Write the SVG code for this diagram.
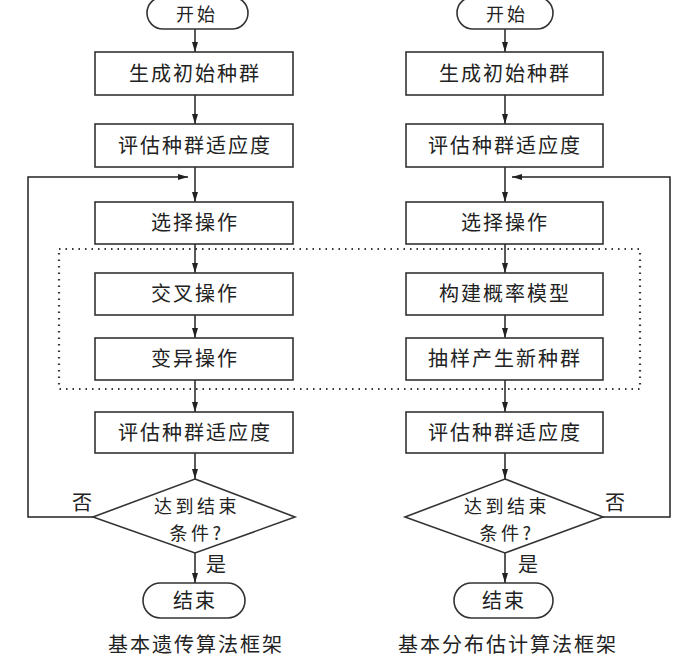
<svg xmlns="http://www.w3.org/2000/svg" width="681" height="660" viewBox="0 0 681 660">
<defs>
<marker id="ah" viewBox="0 0 10 6" refX="10" refY="3" markerWidth="10" markerHeight="6" markerUnits="userSpaceOnUse" orient="auto">
<path d="M0,0 L10,3 L0,6 z" fill="#222"/>
</marker>
<style>
.n{fill:#fff;stroke:#333;stroke-width:1.6}
.t{font-family:"Noto Sans CJK SC","Noto Sans",sans-serif;font-size:20px;fill:#222;text-anchor:middle;letter-spacing:2px}
.s{font-size:18px;letter-spacing:3px}
.d{font-size:18px;letter-spacing:3.5px}
.c{fill:none;stroke:#222;stroke-width:1.5;marker-end:url(#ah)}
.dot{fill:none;stroke:#333;stroke-width:2.2;stroke-dasharray:1.5 5}
</style>
</defs>
<rect width="681" height="660" fill="#fff"/>
<rect class="dot" x="59" y="249" width="581" height="140"/>
<g id="connectors">
<path class="c" d="M195,29 V52"/>
<path class="c" d="M195,95 V124"/>
<path class="c" d="M195,167 V202"/>
<path class="c" d="M195,244 V273"/>
<path class="c" d="M195,315 V338"/>
<path class="c" d="M195,380 V412"/>
<path class="c" d="M195,453 V479"/>
<path class="c" d="M195,553 V583"/>
<path class="c" d="M93,517 H28 V177 H188"/>
<path class="c" d="M505,29 V52"/>
<path class="c" d="M505,95 V124"/>
<path class="c" d="M505,167 V202"/>
<path class="c" d="M505,244 V273"/>
<path class="c" d="M505,315 V338"/>
<path class="c" d="M505,380 V412"/>
<path class="c" d="M505,453 V479"/>
<path class="c" d="M505,553 V583"/>
<path class="c" d="M603,517 H670 V177 H512"/>
</g>
<g id="L_start"><rect class="n" x="147" y="-3" width="101" height="32" rx="16"/><text class="t s" x="197" y="21">开始</text></g>
<g id="L_init"><rect class="n" x="95" y="52" width="198" height="43"/><text class="t" x="195" y="81">生成初始种群</text></g>
<g id="L_eval1"><rect class="n" x="95" y="124" width="198" height="43"/><text class="t" x="195" y="153">评估种群适应度</text></g>
<g id="L_sel"><rect class="n" x="95" y="202" width="198" height="42"/><text class="t" x="195" y="230">选择操作</text></g>
<g id="L_cross"><rect class="n" x="95" y="273" width="198" height="42"/><text class="t" x="195" y="301">交叉操作</text></g>
<g id="L_mut"><rect class="n" x="95" y="338" width="198" height="42"/><text class="t" x="195" y="366">变异操作</text></g>
<g id="L_eval2"><rect class="n" x="95" y="412" width="198" height="41"/><text class="t" x="195" y="440">评估种群适应度</text></g>
<g id="L_cond"><path class="n" d="M195,479 L295,517 L195,553 L93,517 z"/><text class="t d" x="197" y="512.5">达到结束</text><text class="t d" x="197" y="539.5">条件?</text></g>
<g id="L_end"><rect class="n" x="143" y="583" width="102" height="35" rx="17.5"/><text class="t" x="195" y="608">结束</text></g>
<text class="t" x="83" y="510">否</text>
<text class="t" x="217" y="572">是</text>
<text class="t" x="196" y="652">基本遗传算法框架</text>
<g id="R_start"><rect class="n" x="457" y="-3" width="96" height="32" rx="16"/><text class="t s" x="507" y="21">开始</text></g>
<g id="R_init"><rect class="n" x="406" y="52" width="197" height="43"/><text class="t" x="505" y="81">生成初始种群</text></g>
<g id="R_eval1"><rect class="n" x="406" y="124" width="197" height="43"/><text class="t" x="505" y="153">评估种群适应度</text></g>
<g id="R_sel"><rect class="n" x="406" y="202" width="197" height="42"/><text class="t" x="505" y="230">选择操作</text></g>
<g id="R_model"><rect class="n" x="406" y="273" width="197" height="42"/><text class="t" x="505" y="301">构建概率模型</text></g>
<g id="R_sample"><rect class="n" x="406" y="338" width="197" height="42"/><text class="t" x="505" y="366">抽样产生新种群</text></g>
<g id="R_eval2"><rect class="n" x="406" y="412" width="197" height="41"/><text class="t" x="505" y="440">评估种群适应度</text></g>
<g id="R_cond"><path class="n" d="M505,479 L603,517 L505,553 L405,517 z"/><text class="t d" x="507" y="512.5">达到结束</text><text class="t d" x="507" y="539.5">条件?</text></g>
<g id="R_end"><rect class="n" x="454" y="583" width="99" height="35" rx="17.5"/><text class="t" x="504" y="608">结束</text></g>
<text class="t" x="616" y="510">否</text>
<text class="t" x="529" y="572">是</text>
<text class="t" x="508" y="652">基本分布估计算法框架</text>
</svg>
